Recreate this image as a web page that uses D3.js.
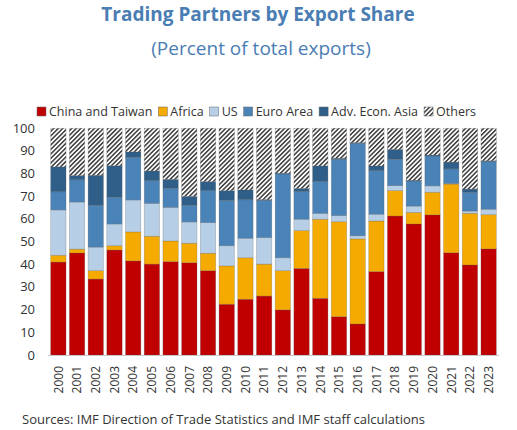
<!DOCTYPE html>
<html>
<head>
<meta charset="utf-8">
<script src="https://cdn.jsdelivr.net/npm/d3@7"></script>
<style>
  body { margin: 0; background: #fff; }
  svg { display: block; font-family: "Open Sans", "Noto Sans", sans-serif; }
</style>
</head>
<body>
<svg id="chart" width="517" height="430"></svg>
<script>
"use strict";

// Years on the x axis
const years = ["2000","2001","2002","2003","2004","2005","2006","2007","2008","2009","2010","2011",
               "2012","2013","2014","2015","2016","2017","2018","2019","2020","2021","2022","2023"];

// Series, percent of total exports
const seriesNames = ["China and Taiwan", "Africa", "US", "Euro Area", "Adv. Econ. Asia", "Others"];
const chinaTaiwan = [41, 45, 33.5, 46.3, 41.5, 40.1, 41.2, 40.7, 37.2, 22.4, 24.6, 26, 19.9, 38.2, 25, 16.9, 13.7, 36.8, 61.3, 57.8, 61.8, 45.1, 39.7, 46.8];
const africa      = [3, 1.7, 3.7, 1.9, 12.8, 12.3, 9.1, 8.6, 7.7, 16.9, 18.3, 14.1, 17.3, 16.7, 34.9, 41.9, 37.5, 22.3, 11.2, 5.1, 10, 30.3, 22.8, 15.1];
const us          = [20, 20.8, 10.4, 9.6, 14.1, 14.5, 14.8, 9.4, 13.5, 8.9, 8.6, 11.7, 5.7, 5, 2.6, 2.7, 1.4, 3, 2.2, 2.8, 2.8, 0.3, 1, 2.4];
const euroArea    = [8, 9.8, 18.4, 11.8, 18.8, 10, 8.4, 7.3, 14.1, 20, 17, 16.4, 37, 12.2, 14, 24.8, 40.8, 19.2, 11.6, 11.1, 13.2, 6.4, 8.3, 21];
const advAsia     = [11, 1.9, 13.3, 13.9, 2.4, 4.3, 4, 4, 4, 4.3, 4.3, 0.4, 0.3, 1.4, 6.9, 0.5, 0.3, 2.1, 4.4, 0.3, 0.4, 3, 1.4, 0.4];
const others      = [17, 20.8, 20.7, 16.5, 10.4, 18.8, 22.5, 30, 23.5, 27.5, 27.2, 31.4, 19.8, 26.5, 16.6, 13.2, 6.3, 16.6, 9.3, 22.9, 11.8, 14.9, 26.8, 14.3];

const yTicks = [0, 10, 20, 30, 40, 50, 60, 70, 80, 90, 100];
const colors = ["#c00000", "#f5aa00", "#b7cfe6", "#4a83b7", "#2f5f88", "url(#hatch)"];

const svg = d3.select("#chart");

// Diagonal hatch for "Others"
const defs = svg.append("defs");
const hatch = defs.append("pattern")
    .attr("id", "hatch")
    .attr("patternUnits", "userSpaceOnUse")
    .attr("width", 3.2)
    .attr("height", 3.2)
    .attr("patternTransform", "rotate(45)");
hatch.append("rect").attr("width", 3.2).attr("height", 3.2).attr("fill", "#fff");
hatch.append("rect").attr("width", 1.5).attr("height", 3.2).attr("fill", "#3a3a3a");

const table = years.map((y, i) => ({
    year: y,
    "China and Taiwan": chinaTaiwan[i],
    "Africa": africa[i],
    "US": us[i],
    "Euro Area": euroArea[i],
    "Adv. Econ. Asia": advAsia[i],
    "Others": others[i]
}));

const stacked = d3.stack().keys(seriesNames)(table);

const x = d3.scaleBand()
    .domain(years)
    .range([49, 498])
    .paddingInner(0.18)
    .paddingOuter(0.09);

const y = d3.scaleLinear()
    .domain([0, 100])
    .range([355, 128.3]);

const color = d3.scaleOrdinal().domain(seriesNames).range(colors);

// Title
svg.append("text")
    .attr("x", 258).attr("y", 21)
    .attr("text-anchor", "middle")
    .attr("font-size", "19px")
    .attr("font-weight", "bold")
    .attr("fill", "#4a7db3")
    .text("Trading Partners by Export Share");

svg.append("text")
    .attr("x", 261).attr("y", 55)
    .attr("text-anchor", "middle")
    .attr("font-size", "19px")
    .attr("fill", "#4a7db3")
    .text("(Percent of total exports)");

// Bars
svg.append("g")
    .selectAll("g")
    .data(stacked)
    .enter()
    .append("g")
    .attr("fill", d => color(d.key))
    .selectAll("rect")
    .data(d => d)
    .enter()
    .append("rect")
    .attr("x", d => x(d.data.year))
    .attr("y", d => y(d[1]))
    .attr("width", x.bandwidth())
    .attr("height", d => y(d[0]) - y(d[1]))
    .attr("stroke", "#555")
    .attr("stroke-opacity", 0.35)
    .attr("stroke-width", 0.7);

// Baseline
svg.append("line")
    .attr("x1", 48).attr("x2", 499)
    .attr("y1", y(0) + 0.5).attr("y2", y(0) + 0.5)
    .attr("stroke", "#c8c8c8");

// Y axis labels
svg.append("g")
    .selectAll("text")
    .data(yTicks)
    .enter()
    .append("text")
    .attr("x", 35)
    .attr("y", d => y(d) + 4.5)
    .attr("text-anchor", "end")
    .attr("font-size", "13px")
    .attr("fill", "#333")
    .text(d => d);

// X axis labels, rotated
svg.append("g")
    .selectAll("text")
    .data(years)
    .enter()
    .append("text")
    .attr("transform", d => `translate(${x(d) + x.bandwidth() / 2 + 4.3}, 366) rotate(-90)`)
    .attr("text-anchor", "end")
    .attr("font-size", "12px")
    .attr("fill", "#333")
    .text(d => d);

// Legend, laid out left to right after measuring each label
const legend = svg.append("g").attr("transform", "translate(0, 107)");
let legendCursor = 37;
seriesNames.forEach(name => {
    const item = legend.append("g").attr("transform", `translate(${legendCursor}, 0)`);
    item.append("rect")
        .attr("width", 9)
        .attr("height", 9)
        .attr("fill", color(name))
        .attr("stroke", "#666")
        .attr("stroke-width", 0.5);
    const label = item.append("text")
        .attr("x", 12)
        .attr("y", 9)
        .attr("font-size", "12.5px")
        .attr("fill", "#333")
        .text(name);
    legendCursor += 12 + label.node().getComputedTextLength() + 6;
});

// Source note
svg.append("text")
    .attr("x", 22).attr("y", 424)
    .attr("font-size", "13px")
    .attr("fill", "#333")
    .text("Sources: IMF Direction of Trade Statistics and IMF staff calculations");
</script>
</body>
</html>
